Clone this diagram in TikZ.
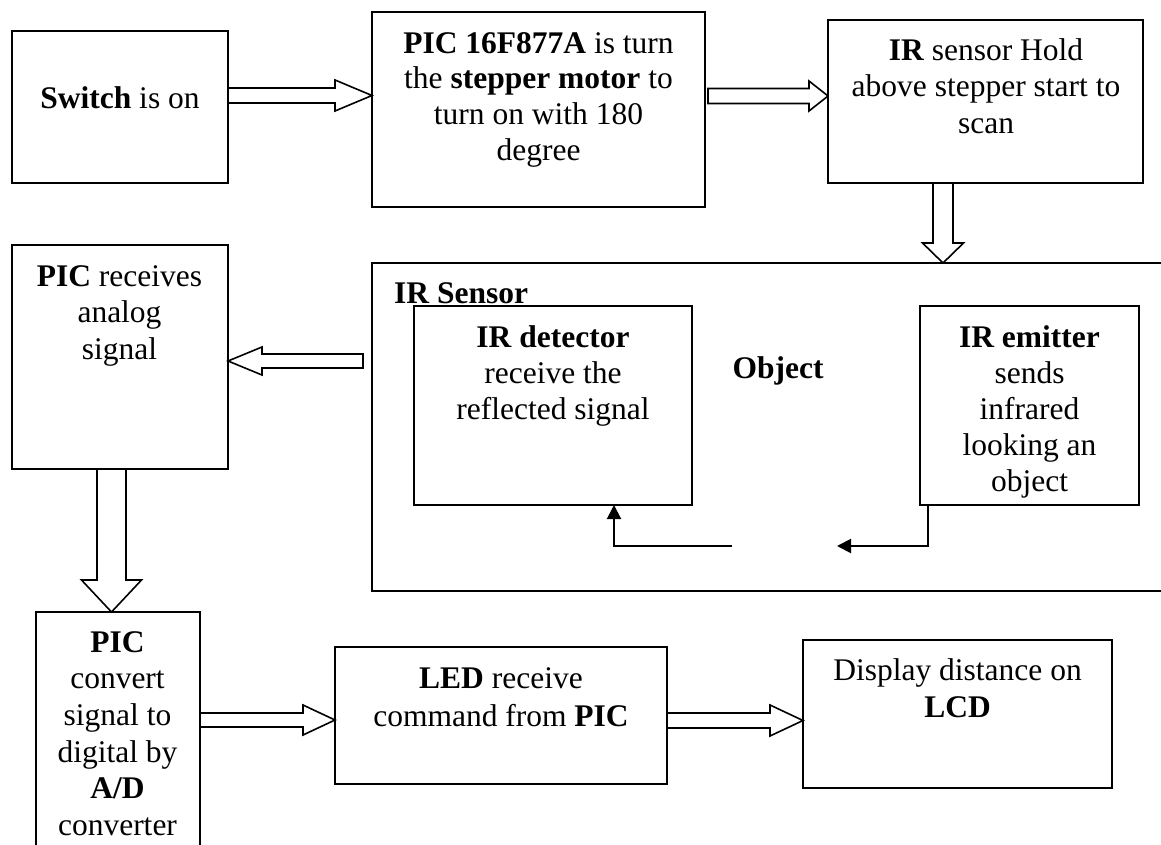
\documentclass[tikz,border=0pt]{standalone}
\usepackage{fontspec}
\setmainfont{Liberation Serif}
\usetikzlibrary{fit,calc,arrows.meta}
\newcommand\topstrut{\rule{0pt}{25pt}}
\tikzset{
  box/.style={draw, line width=2pt, inner sep=0pt, outer sep=0pt},
  blk/.style={draw, line width=1.6pt, fill=white, line join=miter},
  txt/.style={inner sep=0pt, align=center, anchor=north, font=\fontsize{31.5}{36.5}\selectfont},
  lbl/.style={inner sep=0pt, font=\fontsize{31.5}{36.5}\selectfont},
  thin/.style={line width=2pt, -{Triangle[length=14pt,width=14pt]}}
}
% horizontal hollow block arrow: from, to, shaft half, head half, head length
\newcommand\hblk[5]{%
  \draw[blk] let \p1=(#1), \p2=(#2), \n1={ifthenelse(\x2>\x1,1,-1)} in
    (\x1,\y1+#3pt) -- ({\x2-\n1*#5pt},\y1+#3pt) -- ({\x2-\n1*#5pt},\y1+#4pt)
    -- (\x2,\y1) -- ({\x2-\n1*#5pt},\y1-#4pt) -- ({\x2-\n1*#5pt},\y1-#3pt)
    -- (\x1,\y1-#3pt) -- cycle;}
% vertical hollow block arrow
\newcommand\vblk[5]{%
  \draw[blk] let \p1=(#1), \p2=(#2), \n1={ifthenelse(\y2>\y1,1,-1)} in
    (\x1+#3pt,\y1) -- (\x1+#3pt,{\y2-\n1*#5pt}) -- (\x1+#4pt,{\y2-\n1*#5pt})
    -- (\x1,\y2) -- (\x1-#4pt,{\y2-\n1*#5pt}) -- (\x1-#3pt,{\y2-\n1*#5pt})
    -- (\x1-#3pt,\y1) -- cycle;}
\begin{document}
\begin{tikzpicture}[x=1pt, y=-1pt]
\useasboundingbox (0,0) rectangle (1161,845);
\clip (0,0) rectangle (1161,845);
\fill[white] (0,0) rectangle (1161,845);

% boxes
\node[box, fit={(12,31) (228,183)}] (sw) {};
\node[box, fit={(372,12) (705,207)}] (pic) {};
\node[box, fit={(828,20) (1143,183)}] (irh) {};
\node[box, fit={(372,263) (1180,591)}] (big) {};
\node[box, fit={(414,306) (692,505)}] (det) {};
\node[box, fit={(920,306) (1139,505)}] (emi) {};
\node[box, fit={(12,245) (228,469)}] (rec) {};
\node[box, fit={(36,612) (200,880)}] (conv) {};
\node[box, fit={(335,647) (667,784)}] (led) {};
\node[box, fit={(803,640) (1112,788)}] (lcd) {};

% texts
\node[txt] (swt) at (120,83) {\topstrut\textbf{Switch} is on};
\node[txt, font=\fontsize{31.5}{35.8}\selectfont] (pict) at (538.5,28) {\topstrut\textbf{PIC 16F877A} is turn\\ the \textbf{stepper motor} to\\ turn on with 180\\ degree};
\node[txt] (irht) at (986,35) {\topstrut\textbf{IR} sensor Hold\\ above stepper start to\\ scan};
\node[lbl, anchor=base west] (irs) at (394,303) {\textbf{IR Sensor}};
\node[txt, font=\fontsize{31.5}{36}\selectfont] (dett) at (553,322) {\topstrut\textbf{IR detector}\\ receive the\\ reflected signal};
\node[lbl, anchor=base] (obj) at (778,378) {\textbf{Object}};
\node[txt, font=\fontsize{31.5}{36}\selectfont] (emit) at (1029.5,322) {\topstrut\textbf{IR emitter}\\ sends\\ infrared\\ looking an\\ object};
\node[txt] (rect) at (119.5,261) {\topstrut\textbf{PIC} receives\\ analog\\ signal};
\node[txt, font=\fontsize{31.5}{36.6}\selectfont] (convt) at (117.5,627) {\topstrut\textbf{PIC}\\ convert\\ signal to\\ digital by\\ \textbf{A/D}\\ converter};
\node[txt, font=\fontsize{31.5}{38}\selectfont] (ledt) at (501,663) {\topstrut\textbf{LED} receive\\ command from \textbf{PIC}};
\node[txt, font=\fontsize{31.5}{37}\selectfont] (lcdt) at (957.5,655) {\topstrut Display distance on\\ \textbf{LCD}};

% reference rows/columns for block arrows
\coordinate (r1) at (0,95.5);
\coordinate (r2) at (0,96);
\coordinate (r4) at (0,361);
\coordinate (r6) at (0,720);
\coordinate (r7) at (0,720.5);
\coordinate (c3) at (943,0);
\coordinate (c5) at (111.5,0);

% hollow block arrows
\hblk{sw.east |- r1}{pic.west |- r1}{7.5}{15.5}{37}
\hblk{$(pic.east |- r2)+(3,0)$}{irh.west |- r2}{7.5}{15}{19}
\vblk{irh.south -| c3}{big.north -| c3}{10}{20.5}{20}
\hblk{$(big.west |- r4)+(-9,0)$}{rec.east |- r4}{7}{14}{34}
\vblk{rec.south -| c5}{conv.north -| c5}{14.5}{30}{32}
\hblk{conv.east |- r6}{led.west |- r6}{7}{15}{32}
\hblk{led.east |- r7}{lcd.west |- r7}{7.5}{15.5}{33}

% thin connectors inside the IR sensor
\coordinate (e1) at ($(emi.south west)+(8,0)$);
\coordinate (e2) at (837,546);
\coordinate (d1) at (732,546);
\coordinate (d2) at ($(det.south west)+(200,0)$);
\draw[thin] (e1) |- (e2);
\draw[thin] (d1) -| (d2);
\end{tikzpicture}
\end{document}
